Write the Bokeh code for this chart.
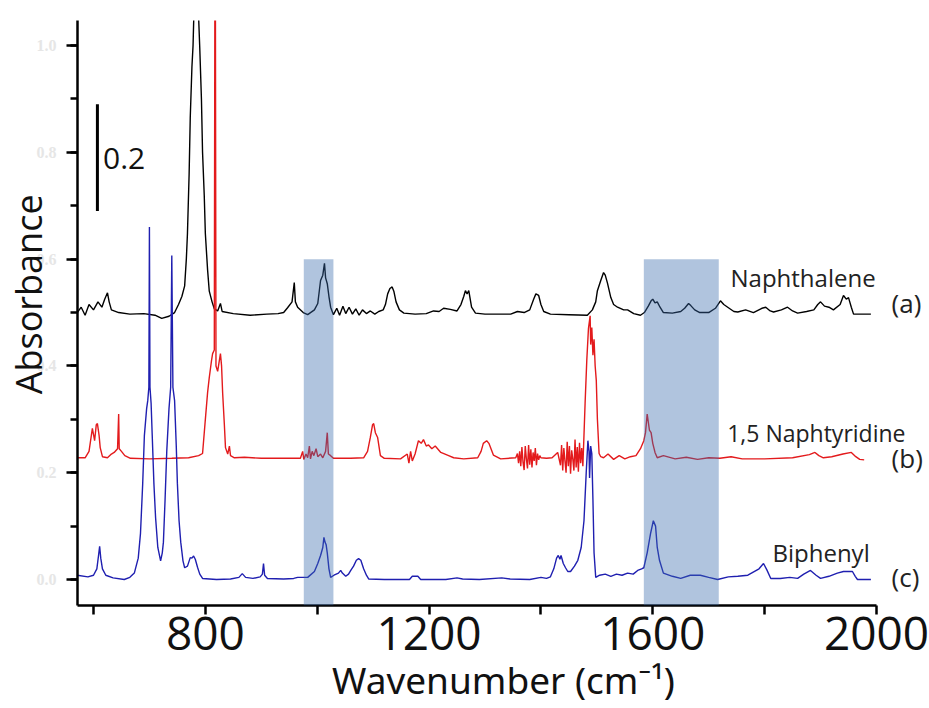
from bokeh.plotting import figure
from bokeh.models import (ColumnDataSource, Range1d, FixedTicker, SingleIntervalTicker,
                          PrintfTickFormatter, Label, BoxAnnotation)
from bokeh.embed import file_html
from bokeh.resources import INLINE

# ---------------- data (as plotted, offsets included) ----------------
naph_wn = [571, 578, 585, 592, 600, 608, 615, 620, 625, 628, 632, 645, 665, 690, 710, 722, 735, 745,
           752, 758, 763, 766, 768, 771, 773, 776, 778, 780, 787, 790, 793, 795, 798, 800, 804, 807,
           812, 816, 822, 827, 830, 850, 880, 910, 930, 940, 947, 955, 959, 961, 965, 975, 983, 995,
           1001, 1006, 1010, 1013, 1015, 1018, 1021, 1024, 1029, 1035, 1040, 1046, 1051, 1057, 1063,
           1069, 1075, 1081, 1088, 1095, 1103, 1110, 1118, 1122, 1126, 1130, 1134, 1137, 1141, 1147,
           1155, 1175, 1195, 1208, 1218, 1226, 1238, 1250, 1257, 1262, 1265, 1268, 1271, 1276, 1283,
           1300, 1330, 1346, 1358, 1370, 1380, 1387, 1391, 1396, 1400, 1405, 1417, 1450, 1483, 1492,
           1498, 1501, 1507, 1512, 1515, 1519, 1525, 1530, 1537, 1548, 1555, 1566, 1578, 1585, 1592,
           1597, 1600, 1604, 1608, 1613, 1619, 1635, 1650, 1657, 1664, 1668, 1675, 1684, 1700, 1712,
           1721, 1727, 1734, 1745, 1752, 1766, 1780, 1795, 1802, 1810, 1816, 1830, 1841, 1850, 1859,
           1875, 1888, 1895, 1900, 1907, 1915, 1923, 1935, 1941, 1946, 1950, 1955, 1959, 1975, 1990]
naph_abs = [0.500, 0.510, 0.495, 0.515, 0.505, 0.520, 0.510, 0.525, 0.537, 0.520, 0.505, 0.500, 0.497,
            0.498, 0.495, 0.489, 0.493, 0.500, 0.515, 0.530, 0.550, 0.600, 0.648, 0.760, 0.865, 0.960,
            1.000, 1.080, 1.080, 0.996, 0.900, 0.800, 0.720, 0.648, 0.580, 0.540, 0.520, 0.507, 0.503,
            0.517, 0.502, 0.498, 0.495, 0.497, 0.498, 0.500, 0.509, 0.520, 0.556, 0.520, 0.510, 0.500,
            0.496, 0.505, 0.517, 0.560, 0.570, 0.592, 0.565, 0.554, 0.530, 0.510, 0.496, 0.508, 0.495,
            0.512, 0.498, 0.510, 0.497, 0.507, 0.495, 0.505, 0.498, 0.503, 0.497, 0.502, 0.505, 0.515,
            0.535, 0.545, 0.548, 0.540, 0.520, 0.505, 0.499, 0.497, 0.498, 0.503, 0.502, 0.508, 0.506,
            0.503, 0.515, 0.530, 0.541, 0.535, 0.541, 0.510, 0.499, 0.497, 0.497, 0.497, 0.502, 0.500,
            0.505, 0.525, 0.535, 0.532, 0.515, 0.502, 0.497, 0.496, 0.495, 0.505, 0.520, 0.541, 0.560,
            0.575, 0.570, 0.555, 0.528, 0.515, 0.510, 0.505, 0.505, 0.498, 0.495, 0.500, 0.512, 0.522,
            0.525, 0.518, 0.520, 0.510, 0.500, 0.499, 0.502, 0.508, 0.517, 0.513, 0.505, 0.500, 0.500,
            0.508, 0.522, 0.515, 0.510, 0.502, 0.501, 0.505, 0.500, 0.508, 0.510, 0.503, 0.501, 0.505,
            0.510, 0.503, 0.499, 0.502, 0.505, 0.515, 0.520, 0.512, 0.510, 0.505, 0.515, 0.532, 0.525,
            0.528, 0.510, 0.497, 0.497, 0.497]

naphty_wn = [571, 585, 592, 598, 602, 605, 607, 610, 612, 616, 625, 632, 637, 643, 645, 646, 650, 656,
             666, 700, 740, 770, 788, 795, 800, 804, 807, 811, 813, 816, 817, 818, 819, 822, 825, 827,
             829, 831, 834, 836, 840, 843, 845, 852, 870, 900, 940, 970, 974, 976, 980, 983, 986, 988,
             991, 994, 998, 1001, 1006, 1010, 1015, 1018, 1020, 1024, 1029, 1060, 1083, 1090, 1095,
             1099, 1101, 1104, 1108, 1113, 1120, 1149, 1161, 1164, 1167, 1170, 1175, 1181, 1186, 1190,
             1195, 1199, 1205, 1211, 1221, 1235, 1244, 1262, 1287, 1293, 1297, 1303, 1307, 1315, 1328,
             1355, 1358, 1360, 1362, 1364, 1366, 1368, 1370, 1372, 1374, 1376, 1378, 1380, 1382, 1384,
             1386, 1388, 1390, 1392, 1394, 1396, 1398, 1400, 1410, 1420, 1430,
             1435, 1437, 1439, 1441, 1443, 1445, 1447, 1449, 1451, 1453, 1455, 1457, 1459, 1461, 1463,
             1465, 1467, 1469, 1471, 1473, 1475, 1477, 1479,
             1482, 1485, 1488, 1489, 1491, 1493, 1495, 1497, 1499, 1501, 1504, 1507, 1512, 1520, 1530,
             1540, 1550, 1560, 1570, 1578, 1584, 1587, 1590, 1594, 1597, 1600, 1604, 1608, 1619, 1640,
             1660, 1680, 1700, 1720, 1740, 1760, 1780, 1800, 1850, 1880, 1890, 1897, 1905, 1920, 1940,
             1955, 1963, 1970, 1978, 1990]
naphty_abs = [0.228, 0.228, 0.240, 0.283, 0.260, 0.290, 0.292, 0.270, 0.247, 0.230, 0.228, 0.235,
              0.238, 0.245, 0.310, 0.245, 0.240, 0.232, 0.227, 0.226, 0.227, 0.228, 0.232, 0.236,
              0.300, 0.350, 0.378, 0.410, 0.423, 0.430, 1.080, 1.080, 0.400, 0.390, 0.410, 0.423,
              0.400, 0.348, 0.290, 0.247, 0.235, 0.250, 0.232, 0.228, 0.229, 0.227, 0.227, 0.227,
              0.240, 0.225, 0.235, 0.228, 0.250, 0.226, 0.240, 0.232, 0.245, 0.230, 0.235, 0.228,
              0.240, 0.275, 0.235, 0.232, 0.227, 0.227, 0.228, 0.240, 0.266, 0.290, 0.292, 0.275,
              0.266, 0.232, 0.227, 0.226, 0.235, 0.218, 0.240, 0.222, 0.235, 0.260, 0.255, 0.262,
              0.250, 0.252, 0.245, 0.250, 0.238, 0.232, 0.228, 0.226, 0.228, 0.240, 0.255, 0.260,
              0.255, 0.233, 0.226, 0.228,
              0.236, 0.218, 0.240, 0.212, 0.248, 0.220, 0.205, 0.250, 0.226, 0.208, 0.252, 0.215,
              0.244, 0.210, 0.238, 0.222, 0.246, 0.214, 0.236, 0.224, 0.232,
              0.228, 0.227, 0.228,
              0.238, 0.214, 0.252, 0.204, 0.246, 0.222, 0.200, 0.258, 0.212, 0.250, 0.198, 0.242,
              0.226, 0.204, 0.262, 0.210, 0.248, 0.202, 0.256, 0.218, 0.246, 0.212, 0.270,
              0.330, 0.410, 0.470, 0.494, 0.440, 0.472, 0.420, 0.450, 0.400, 0.373, 0.300, 0.236,
              0.230, 0.228, 0.235,
              0.225, 0.232, 0.226, 0.230, 0.232, 0.245, 0.260, 0.275, 0.310, 0.280, 0.275, 0.255,
              0.238, 0.228, 0.232, 0.226, 0.229, 0.225, 0.228, 0.227, 0.230, 0.226, 0.226, 0.226,
              0.228, 0.234, 0.238, 0.232, 0.228, 0.230, 0.235, 0.238, 0.230, 0.225, 0.224]

biph_wn = [571, 590, 600, 606, 609, 611, 613, 616, 622, 635, 655, 665, 673, 680, 684, 688, 691, 695,
           697, 699, 700, 701, 703, 705, 708, 711, 715, 720, 723, 725, 728, 731, 735, 738, 740, 742,
           745, 748, 750, 753, 756, 760, 763, 768, 773, 776, 779, 782, 786, 790, 795, 820, 845, 860,
           866, 872, 885, 898, 902, 904, 906, 911, 940, 958, 965, 983, 995, 1001, 1006, 1010, 1012,
           1014, 1016, 1018, 1021, 1024, 1030, 1038, 1042, 1045, 1051, 1056, 1060, 1065, 1070, 1074,
           1078, 1083, 1088, 1092, 1120, 1165, 1170, 1180, 1185, 1230, 1250, 1260, 1290, 1330, 1345,
           1380, 1400, 1410, 1417, 1423, 1428, 1431, 1434, 1436, 1440, 1444, 1448, 1453, 1460, 1466,
           1472, 1477, 1481, 1484, 1486, 1487, 1489, 1491, 1493, 1495, 1498, 1505, 1515, 1525, 1535,
           1545, 1555, 1565, 1573, 1580, 1584, 1590, 1596, 1601, 1605, 1608, 1612, 1619, 1635, 1650,
           1667, 1685, 1700, 1716, 1735, 1752, 1770, 1790, 1798, 1804, 1811, 1828, 1845, 1859, 1870,
           1882, 1892, 1900, 1915, 1930, 1941, 1950, 1957, 1962, 1966, 1990]
biph_abs = [0.008, 0.005, 0.008, 0.020, 0.045, 0.062, 0.040, 0.020, 0.008, 0.003, 0.000, 0.004, 0.012,
            0.040, 0.086, 0.180, 0.270, 0.320, 0.335, 0.360, 0.660, 0.360, 0.330, 0.270, 0.180, 0.116,
            0.060, 0.035, 0.050, 0.070, 0.150, 0.240, 0.320, 0.360, 0.607, 0.360, 0.335, 0.250, 0.180,
            0.110, 0.070, 0.035, 0.022, 0.025, 0.041, 0.040, 0.044, 0.038, 0.023, 0.010, 0.002, 0.000,
            0.001, 0.004, 0.011, 0.004, 0.002, 0.005, 0.010, 0.030, 0.008, 0.002, 0.001, 0.002, 0.004,
            0.004, 0.015, 0.030, 0.045, 0.060, 0.079, 0.070, 0.065, 0.050, 0.020, 0.004, 0.008, 0.012,
            0.017, 0.012, 0.006, 0.010, 0.017, 0.025, 0.036, 0.039, 0.036, 0.020, 0.008, 0.001, 0.000,
            0.000, 0.006, 0.006, 0.000, 0.000, 0.003, 0.001, 0.000, 0.003, 0.001, 0.000, 0.004, 0.002,
            0.005, 0.020, 0.040, 0.045, 0.038, 0.045, 0.030, 0.022, 0.015, 0.015, 0.025, 0.036, 0.060,
            0.110, 0.200, 0.260, 0.240, 0.190, 0.250, 0.236, 0.150, 0.050, 0.004, 0.008, 0.010, 0.006,
            0.010, 0.008, 0.012, 0.010, 0.017, 0.020, 0.022, 0.050, 0.086, 0.110, 0.100, 0.060, 0.036,
            0.012, 0.006, 0.002, 0.008, 0.008, 0.004, 0.000, 0.005, 0.006, 0.008, 0.020, 0.030, 0.018,
            0.002, 0.002, 0.004, 0.002, 0.010, 0.017, 0.008, 0.002, 0.006, 0.012, 0.015, 0.015, 0.015,
            0.006, 0.000, 0.000]

highlight_ranges = [(976, 1029), (1584, 1718)]
highlight_top = 0.60
scale_bar_value = 0.2
x_major_ticks = [800, 1200, 1600, 2000]
x_minor_ticks = [600, 1000, 1400, 1800]

FONT = "Open Sans"

p = figure(width=929, height=708, output_backend="svg", toolbar_location=None,
           x_range=Range1d(571.4, 2094.8), y_range=Range1d(-0.0487, 1.047),
           min_border_left=77, min_border_right=0, min_border_top=20, min_border_bottom=103)
p.outline_line_color = None
p.xgrid.grid_line_color = None
p.ygrid.grid_line_color = None
p.background_fill_color = "white"

# spectra
p.line(x="wn", y="a", source=ColumnDataSource(dict(wn=naph_wn, a=naph_abs)),
       line_color="#000000", line_width=1.4)
p.line(x="wn", y="a", source=ColumnDataSource(dict(wn=naphty_wn, a=naphty_abs)),
       line_color="#e31a1c", line_width=1.4)
p.line(x="wn", y="a", source=ColumnDataSource(dict(wn=biph_wn, a=biph_abs)),
       line_color="#1f1fb0", line_width=1.4)

# highlighted regions (over the spectra)
for lo, hi in highlight_ranges:
    p.add_layout(BoxAnnotation(left=lo, right=hi, top=highlight_top,
                               fill_color="#396bac", fill_alpha=0.4, line_color=None))

# scale bar
p.line([607, 607], [0.69, 0.69 + scale_bar_value], line_color="black", line_width=3)
p.add_layout(Label(x=617, y=0.788, text=f"{scale_bar_value}", text_font=FONT,
                   text_font_size="30px", text_baseline="middle", text_color="#111111"))

# series labels
def lab(x, y, t, size, baseline="alphabetic"):
    p.add_layout(Label(x=x, y=y, text=t, text_font=FONT, text_font_size=size,
                       text_baseline=baseline, text_color="#222222"))

lab(1739, 0.566, "Naphthalene", "24px")
lab(2027, 0.517, "(a)", "26px", "middle")
lab(1733, 0.275, "1,5 Naphtyridine", "23px")
lab(2027, 0.227, "(b)", "26px", "middle")
lab(1814, 0.050, "Biphenyl", "24px")
lab(2027, 0.004, "(c)", "26px", "middle")

# axes
xa = p.xaxis[0]
xa.bounds = (571.4, 2000)
xa.ticker = FixedTicker(ticks=x_major_ticks, minor_ticks=x_minor_ticks)
xa.axis_line_width = 2.5
xa.major_tick_line_width = 2.5
xa.minor_tick_line_width = 2.5
xa.major_tick_out = 9
xa.minor_tick_out = 9
xa.major_tick_in = 0
xa.minor_tick_in = 0
xa.major_label_text_font = FONT
xa.major_label_text_font_size = "46px"
xa.major_label_text_color = "#111111"
xa.major_label_standoff = 2
xa.axis_label = "Wavenumber (cm\u207b\u00b9)"
xa.axis_label_text_font = "Noto Sans"
xa.axis_label_text_font_size = "37px"
xa.axis_label_text_font_style = "normal"
xa.axis_label_text_color = "#111111"
xa.axis_label_standoff = 1

ya = p.yaxis[0]
ya.ticker = SingleIntervalTicker(interval=0.2, num_minor_ticks=2)
ya.formatter = PrintfTickFormatter(format="%.1f")
ya.axis_line_width = 2.5
ya.major_tick_line_width = 2.5
ya.minor_tick_line_width = 2.5
ya.major_tick_out = 11
ya.minor_tick_out = 7
ya.major_tick_in = 0
ya.minor_tick_in = 0
ya.major_label_text_font = "Liberation Serif"
ya.major_label_text_font_style = "bold"
ya.major_label_text_font_size = "16px"
ya.major_label_text_color = "#e6e6e6"
ya.major_label_standoff = 10
ya.axis_label = "\u00a0\u00a0\u00a0\u00a0Absorbance"
ya.axis_label_text_font = FONT
ya.axis_label_text_font_size = "36px"
ya.axis_label_text_font_style = "normal"
ya.axis_label_text_color = "#111111"
ya.axis_label_standoff = -19

open("out.html", "w").write(file_html(p, INLINE))
